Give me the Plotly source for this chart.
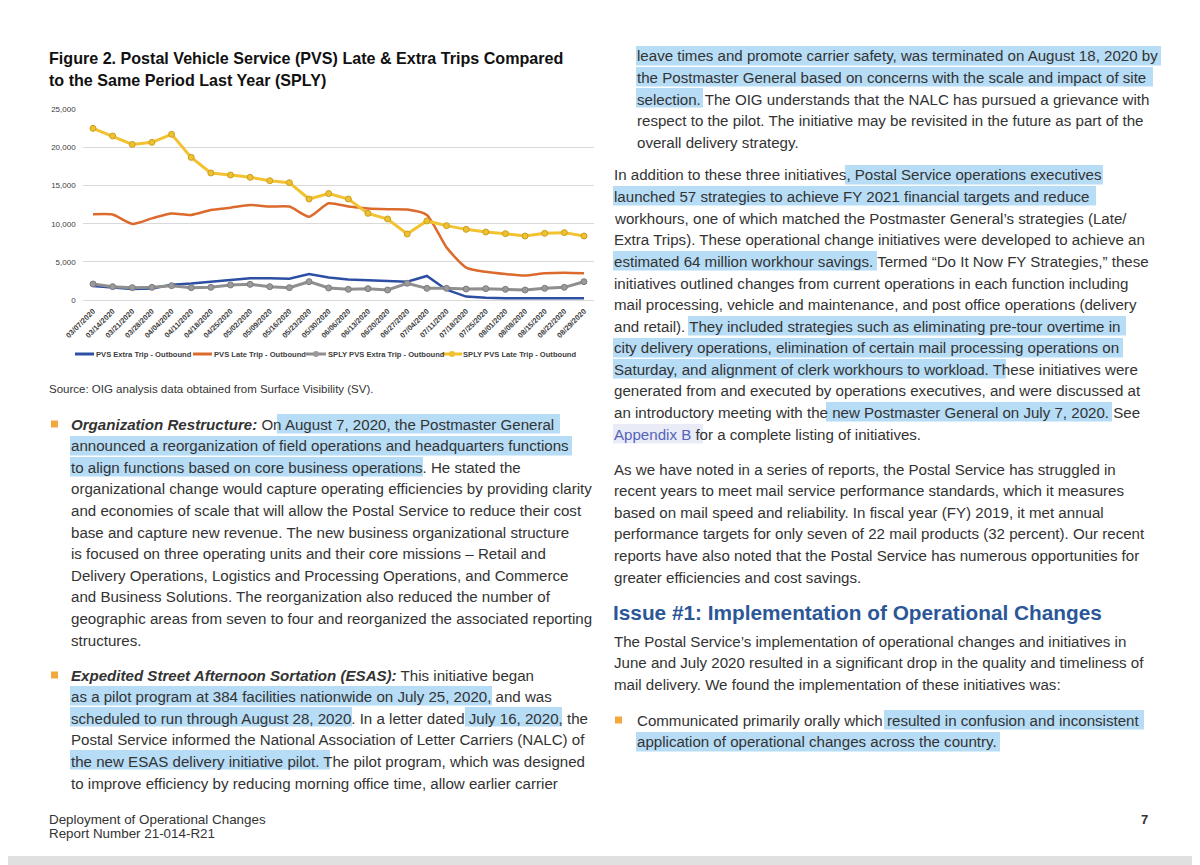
import plotly.graph_objects as go

W, H = 1200, 865
OFF = 8  # page body margin of the browser

# ---------------- chart data ----------------
dates = ["03/07/2020", "03/14/2020", "03/21/2020", "03/28/2020", "04/04/2020", "04/11/2020",
         "04/18/2020", "04/25/2020", "05/02/2020", "05/09/2020", "05/16/2020", "05/23/2020",
         "05/30/2020", "06/06/2020", "06/13/2020", "06/20/2020", "06/27/2020", "07/04/2020",
         "07/11/2020", "07/18/2020", "07/25/2020", "08/01/2020", "08/08/2020", "08/15/2020",
         "08/22/2020", "08/29/2020"]
pvs_extra = [1850, 1620, 1450, 1500, 2000, 2150, 2350, 2600, 2850, 2850, 2800, 3400, 2950,
             2700, 2620, 2500, 2400, 3150, 1350, 450, 280, 230, 220, 220, 220, 220]
pvs_late = [11230, 11200, 9980, 10700, 11350, 11150, 11800, 12100, 12450, 12250, 12250, 10930,
            12680, 12250, 12000, 11900, 11850, 11150, 6900, 4250, 3700, 3400, 3200, 3500, 3580, 3500]
sply_extra = [2100, 1750, 1620, 1660, 1880, 1620, 1660, 1970, 2050, 1750, 1620, 2400, 1580,
              1400, 1490, 1310, 2190, 1530, 1530, 1440, 1490, 1400, 1310, 1530, 1660, 2400]
sply_late = [22500, 21500, 20400, 20670, 21720, 18700, 16650, 16390, 16080, 15640, 15380, 13240,
             13950, 13240, 11360, 10620, 8650, 10360, 9750, 9260, 8910, 8700, 8390, 8740, 8830, 8390]
series_names = ["PVS Extra Trip - Outbound", "PVS Late Trip - Outbound",
                "SPLY PVS Extra Trip - Outbound", "SPLY PVS Late Trip - Outbound"]
y_ticks = [0, 5000, 10000, 15000, 20000, 25000]

# ---------------- page text ----------------
fig_title = ["Figure 2. Postal Vehicle Service (PVS) Late & Extra Trips Compared",
             "to the Same Period Last Year (SPLY)"]
source_text = "Source: OIG analysis data obtained from Surface Visibility (SV)."
left_lines = [
    "<b><i>Organization Restructure:</i></b> On August 7, 2020, the Postmaster General",
    "announced a reorganization of field operations and headquarters functions",
    "to align functions based on core business operations. He stated the",
    "organizational change would capture operating efficiencies by providing clarity",
    "and economies of scale that will allow the Postal Service to reduce their cost",
    "base and capture new revenue. The new business organizational structure",
    "is focused on three operating units and their core missions – Retail and",
    "Delivery Operations, Logistics and Processing Operations, and Commerce",
    "and Business Solutions. The reorganization also reduced the number of",
    "geographic areas from seven to four and reorganized the associated reporting",
    "structures.",
]
left_lines2 = [
    "<b><i>Expedited Street Afternoon Sortation (ESAS):</i></b> This initiative began",
    "as a pilot program at 384 facilities nationwide on July 25, 2020, and was",
    "scheduled to run through August 28, 2020. In a letter dated July 16, 2020, the",
    "Postal Service informed the National Association of Letter Carriers (NALC) of",
    "the new ESAS delivery initiative pilot. The pilot program, which was designed",
    "to improve efficiency by reducing morning office time, allow earlier carrier",
]
right_lines1 = [
    "leave times and promote carrier safety, was terminated on August 18, 2020 by",
    "the Postmaster General based on concerns with the scale and impact of site",
    "selection. The OIG understands that the NALC has pursued a grievance with",
    "respect to the pilot. The initiative may be revisited in the future as part of the",
    "overall delivery strategy.",
]
right_lines2 = [
    "In addition to these three initiatives, Postal Service operations executives",
    "launched 57 strategies to achieve FY 2021 financial targets and reduce",
    "workhours, one of which matched the Postmaster General’s strategies (Late/",
    "Extra Trips). These operational change initiatives were developed to achieve an",
    "estimated 64 million workhour savings. Termed “Do It Now FY Strategies,” these",
    "initiatives outlined changes from current operations in each function including",
    "mail processing, vehicle and maintenance, and post office operations (delivery",
    "and retail). They included strategies such as eliminating pre-tour overtime in",
    "city delivery operations, elimination of certain mail processing operations on",
    "Saturday, and alignment of clerk workhours to workload. These initiatives were",
    "generated from and executed by operations executives, and were discussed at",
    "an introductory meeting with the new Postmaster General on July 7, 2020. See",
    "<span style='color:#5563b8'>Appendix B</span> for a complete listing of initiatives.",
]
right_lines3 = [
    "As we have noted in a series of reports, the Postal Service has struggled in",
    "recent years to meet mail service performance standards, which it measures",
    "based on mail speed and reliability. In fiscal year (FY) 2019, it met annual",
    "performance targets for only seven of 22 mail products (32 percent). Our recent",
    "reports have also noted that the Postal Service has numerous opportunities for",
    "greater efficiencies and cost savings.",
]
heading = "Issue #1: Implementation of Operational Changes"
right_lines4 = [
    "The Postal Service’s implementation of operational changes and initiatives in",
    "June and July 2020 resulted in a significant drop in the quality and timeliness of",
    "mail delivery. We found the implementation of these initiatives was:",
]
right_lines5 = [
    "Communicated primarily orally which resulted in confusion and inconsistent",
    "application of operational changes across the country.",
]
footer = ["Deployment of Operational Changes", "Report Number 21-014-R21"]
page_no = "7"

# highlight boxes: (x0, x1, y-center) in page pixels
highlights = [
    (277, 560, 424), (70, 572, 446), (70, 423, 467),
    (70, 492, 696), (70, 352, 717), (465, 562, 717), (70, 330, 760),
    (636, 1161, 56), (636, 1153, 77), (636, 703, 98),
    (845, 1103, 175), (613, 1096, 196), (613, 877, 261),
    (688, 1126, 326), (613, 1123, 348), (613, 1006, 369), (826, 1112, 412),
    (884, 1144, 720), (636, 1000, 742),
]

def px(x):
    return (x - OFF) / W

def py(y):
    return 1 - (y - OFF) / H

TXT = "#333333"
BODY = "Liberation Sans, Arial, sans-serif"
BODY_SIZE = 15.1

fig = go.Figure()

colors = ["#2c4ea3", "#dc6a2c", "#8f8f8f", "#f2c230"]
fig.add_trace(go.Scatter(x=dates, y=pvs_extra, name=series_names[0], mode="lines",
                         line=dict(color=colors[0], width=2.5)))
fig.add_trace(go.Scatter(x=dates, y=pvs_late, name=series_names[1], mode="lines",
                         line=dict(color=colors[1], width=2.5, shape="spline", smoothing=0.6)))
fig.add_trace(go.Scatter(x=dates, y=sply_extra, name=series_names[2], mode="lines+markers",
                         line=dict(color=colors[2], width=3),
                         marker=dict(size=6, color="#9a9a9a", line=dict(width=1, color="#7d7d7d"))))
fig.add_trace(go.Scatter(x=dates, y=sply_late, name=series_names[3], mode="lines+markers",
                         line=dict(color=colors[3], width=3),
                         marker=dict(size=6, color="#efc030", line=dict(width=1, color="#c9a020"))))

shapes = []
for x0, x1, yc in highlights:
    shapes.append(dict(type="rect", xref="paper", yref="paper", layer="below",
                       x0=px(x0), x1=px(x1), y0=py(yc + 9.5), y1=py(yc - 10),
                       fillcolor="#b6dcf6", line=dict(width=0)))
# Appendix B link box
shapes.append(dict(type="rect", xref="paper", yref="paper", layer="below",
                   x0=px(613), x1=px(703), y0=py(443.5), y1=py(424),
                   fillcolor="#e9ecf6", line=dict(width=0)))
# bullets
for bx, by in [(51, 424), (51, 675), (615, 720)]:
    shapes.append(dict(type="rect", xref="paper", yref="paper",
                       x0=px(bx), x1=px(bx + 7), y0=py(by + 3.5), y1=py(by - 3.5),
                       fillcolor="#f2a93b", line=dict(width=0)))
# bottom grey band
shapes.append(dict(type="rect", xref="paper", yref="paper", x0=0, x1=1, y0=0, y1=py(856),
                   fillcolor="#e0e0e0", line=dict(width=0)))

annotations = []

def add_text(x, y, text, size=BODY_SIZE, color=TXT, family=BODY):
    annotations.append(dict(xref="paper", yref="paper", x=px(x), y=py(y), text=text,
                            showarrow=False, xanchor="left", yanchor="middle",
                            borderpad=0, font=dict(size=size, color=color, family=family)))

# compact legend (Excel style) under the chart
LEG_Y = 354
legend_items = [(75, 94, 95), (193, 212, 213), (306, 326, 327), (442, 462, 462)]
for i, (lx0, lx1, tx) in enumerate(legend_items):
    shapes.append(dict(type="line", xref="paper", yref="paper",
                       x0=px(lx0), x1=px(lx1), y0=py(LEG_Y), y1=py(LEG_Y),
                       line=dict(color=colors[i], width=3)))
    if i >= 2:
        mc = (lx0 + lx1) / 2
        mcol = fig.data[i].marker.color
        shapes.append(dict(type="circle", xref="paper", yref="paper",
                           x0=px(mc - 3), x1=px(mc + 3), y0=py(LEG_Y + 3), y1=py(LEG_Y - 3),
                           fillcolor=mcol, line=dict(width=0)))
    add_text(tx, LEG_Y, "<b>" + series_names[i] + "</b>", size=7.6, color="#404040")

add_text(48, 58, "<b>" + fig_title[0] + "</b>", size=16.1, color="#111111")
add_text(48, 80, "<b>" + fig_title[1] + "</b>", size=16.1, color="#111111")
add_text(48, 389, source_text, size=11.5, color="#333333")

LS = 21.6
for i, t in enumerate(left_lines):
    add_text(70, 424 + i * LS, t)
for i, t in enumerate(left_lines2):
    add_text(70, 675 + i * LS, t)
for i, t in enumerate(right_lines1):
    add_text(636, 56 + i * LS, t)
for i, t in enumerate(right_lines2):
    add_text(613, 175 + i * LS, t)
for i, t in enumerate(right_lines3):
    add_text(613, 469 + i * LS, t)
add_text(612, 612, "<b>" + heading + "</b>", size=20.8, color="#2b5797")
for i, t in enumerate(right_lines4):
    add_text(613, 641 + i * LS, t)
for i, t in enumerate(right_lines5):
    add_text(636, 720 + i * LS, t)

add_text(48, 819, footer[0], size=13.4, color="#333333")
add_text(48, 833, footer[1], size=13.4, color="#333333")
add_text(1140, 819, "<b>" + page_no + "</b>", size=13, color="#333333")

fig.update_layout(
    width=W, height=H, autosize=False,
    margin=dict(l=0, r=0, t=0, b=0, pad=0, autoexpand=False),
    paper_bgcolor="white", plot_bgcolor="white",
    shapes=shapes, annotations=annotations,
    showlegend=False,
    xaxis=dict(domain=[px(83.2), px(593.8)], type="category", range=[-0.5, 25.5],
               tickangle=-45, tickfont=dict(size=7.5, color="#404040", family=BODY),
               tickprefix="<b>", ticksuffix="</b>", automargin=False,
               ticks="outside", ticklen=3, tickcolor="rgba(0,0,0,0)",
               showgrid=False, showline=False, zeroline=False),
    yaxis=dict(domain=[py(300), py(109.3)], range=[0, 25000], tickvals=y_ticks,
               tickformat=",", tickfont=dict(size=8, color="#404040", family=BODY),
               automargin=False, ticks="outside", ticklen=5, tickcolor="rgba(0,0,0,0)",
               showgrid=True, gridcolor="#d9d9d9", gridwidth=1, zeroline=True,
               zerolinecolor="#d9d9d9", zerolinewidth=1, showline=False),
)

fig.write_html("out.html")
